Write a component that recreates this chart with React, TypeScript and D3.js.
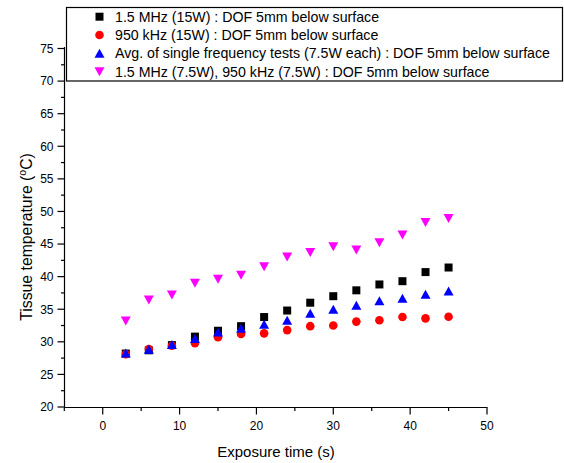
import React, { useEffect, useRef } from 'react';
import * as d3 from 'd3';

const times = [3, 6, 9, 12, 15, 18, 21, 24, 27, 30, 33, 36, 39, 42, 45];
const mhz15 = [28.2, 28.7, 29.5, 30.8, 31.7, 32.4, 33.8, 34.8, 36.0, 37.0, 37.9, 38.8, 39.3, 40.7, 41.4];
const khz950 = [28.1, 28.9, 29.4, 29.8, 30.7, 31.2, 31.3, 31.8, 32.4, 32.5, 33.1, 33.3, 33.8, 33.6, 33.85];
const avgSingle = [28.3, 28.85, 29.6, 30.5, 31.5, 32.1, 32.7, 33.3, 34.4, 35.0, 35.6, 36.3, 36.7, 37.3, 37.8];
const dualFreq = [33.2, 36.4, 37.2, 39.0, 39.6, 40.2, 41.5, 43.0, 43.7, 44.6, 44.1, 45.2, 46.4, 48.3, 48.9];

const legendLabels = [
    '1.5 MHz (15W) : DOF 5mm below surface',
    '950 kHz (15W) : DOF 5mm below surface',
    'Avg. of single frequency tests (7.5W each) : DOF 5mm below surface',
    '1.5 MHz (7.5W), 950 kHz (7.5W) : DOF 5mm below surface'
];
const xMajor = [0, 10, 20, 30, 40, 50];
const xMinor = [-5, 5, 15, 25, 35, 45];
const yMajor = [20, 25, 30, 35, 40, 45, 50, 55, 60, 65, 70, 75];
const yMinor = [22.5, 27.5, 32.5, 37.5, 42.5, 47.5, 52.5, 57.5, 62.5, 67.5, 72.5];

const FONT = '"Liberation Sans", Arial, sans-serif';

// marker shapes drawn around their box centre
const square = 'M-4,-4L4,-4L4,4L-4,4Z';
const triUp = 'M0,-4.5L5,4.5L-5,4.5Z';
const triDown = 'M0,4.5L5,-4.5L-5,-4.5Z';

const seriesList = [
    { values: mhz15, color: '#000000', shape: 'square' },
    { values: khz950, color: '#ff0000', shape: 'circle' },
    { values: avgSingle, color: '#0000ff', shape: 'up' },
    { values: dualFreq, color: '#ff00ff', shape: 'down' }
];

function drawMarker(g: any, shape: string, color: string, cx: number, cy: number) {
    if (shape === 'circle') {
        g.append('circle').attr('cx', cx).attr('cy', cy).attr('r', 4.3).attr('fill', color);
    } else {
        const d = shape === 'square' ? square : shape === 'up' ? triUp : triDown;
        g.append('path').attr('d', d).attr('transform', `translate(${cx},${cy})`).attr('fill', color);
    }
}

function App() {
    const ref = useRef(null);

    useEffect(() => {
        if (!ref.current) return;
        const svg = d3.select(ref.current);
        svg.selectAll('*').remove();

        const x = d3.scaleLinear().domain([-5, 50]).range([64.3, 487]);
        const y = d3.scaleLinear().domain([20, 75]).range([407, 48.5]);

        const axes = svg.append('g').attr('stroke', '#000').attr('stroke-width', 1.2);
        // y axis
        axes.append('line').attr('x1', 64.5).attr('x2', 64.5).attr('y1', 407).attr('y2', 47);
        yMajor.forEach(v => {
            axes.append('line').attr('x1', 57.5).attr('x2', 64.5).attr('y1', y(v)).attr('y2', y(v));
        });
        yMinor.forEach(v => {
            axes.append('line').attr('x1', 61).attr('x2', 64.5).attr('y1', y(v)).attr('y2', y(v));
        });
        // x axis
        axes.append('line').attr('x1', 64).attr('x2', 487.5).attr('y1', 407.5).attr('y2', 407.5);
        xMajor.forEach(v => {
            axes.append('line').attr('x1', x(v)).attr('x2', x(v)).attr('y1', 407.5).attr('y2', 414.5);
        });
        xMinor.forEach(v => {
            axes.append('line').attr('x1', x(v)).attr('x2', x(v)).attr('y1', 407.5).attr('y2', 411);
        });

        const labels = svg.append('g').attr('font-family', FONT).attr('font-size', 12).attr('fill', '#000');
        yMajor.forEach(v => {
            labels.append('text').attr('x', 53.5).attr('y', y(v) + 4.3).attr('text-anchor', 'end').text(v);
        });
        xMajor.forEach(v => {
            labels.append('text').attr('x', x(v)).attr('y', 429.5).attr('text-anchor', 'middle').text(v);
        });

        svg.append('text')
            .attr('x', 276).attr('y', 456.5)
            .attr('text-anchor', 'middle')
            .attr('font-family', FONT).attr('font-size', 15)
            .text('Exposure time (s)');

        const yl = svg.append('text')
            .attr('transform', 'translate(32,237) rotate(-90)')
            .attr('text-anchor', 'middle')
            .attr('font-family', FONT).attr('font-size', 15.8);
        yl.append('tspan').text('Tissue temperature (');
        yl.append('tspan').attr('font-size', 10.5).attr('dy', -6.5).text('o');
        yl.append('tspan').attr('dy', 6.5).text('C)');

        // data
        const pts = svg.append('g');
        seriesList.forEach(s => {
            s.values.forEach((v, i) => drawMarker(pts, s.shape, s.color, x(times[i]), y(v)));
        });

        // legend
        const lg = svg.append('g');
        lg.append('rect')
            .attr('x', 66.5).attr('y', 7.5).attr('width', 496).attr('height', 73.5)
            .attr('fill', '#fff').attr('stroke', '#000').attr('stroke-width', 1.2);
        const rowY = [16.7, 35, 53.3, 71.7];
        seriesList.forEach((s, i) => {
            drawMarker(lg, s.shape, s.color, 99.5, rowY[i]);
            lg.append('text')
                .attr('x', 115).attr('y', rowY[i] + 5)
                .attr('font-family', FONT).attr('font-size', 14.2)
                .text(legendLabels[i]);
        });
    }, []);

    return (
        <svg
            ref={ref}
            width={564}
            height={463}
            style={{ position: 'absolute', left: 0, top: 0, background: '#fff' }}
        />
    );
}

export default App;
